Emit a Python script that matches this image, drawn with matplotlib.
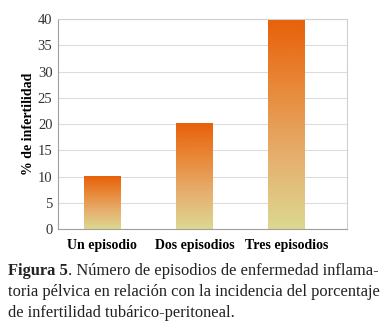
import matplotlib
matplotlib.use("Agg")
import matplotlib.pyplot as plt
import numpy as np
from matplotlib.colors import LinearSegmentedColormap

categories = ["Un episodio", "Dos episodios", "Tres episodios"]
values = [10, 20, 40]
yticks = [0, 5, 10, 15, 20, 25, 30, 35, 40]
ylabel = "% de infertilidad"
caption_bold = "Figura 5"
caption_line1 = ". Número de episodios de enfermedad inflama-"
caption_line2 = "toria pélvica en relación con la incidencia del porcentaje"
caption_line3 = "de infertilidad tubárico-peritoneal."

serif = ["Liberation Serif", "DejaVu Serif"]

fig = plt.figure(figsize=(3.84, 3.36), dpi=100)
ax = fig.add_axes([0.151, 0.318, 0.753, 0.625])

cmap = LinearSegmentedColormap.from_list(
    "og", ["#dcd890", "#e6b070", "#e88a3a", "#e8600a"])
grad = np.linspace(0, 1, 256).reshape(-1, 1)
x = np.arange(len(categories))
w = 0.40
for xi, v in zip(x, values):
    ax.imshow(grad, extent=[xi - w / 2, xi + w / 2, 0, v], origin="lower",
              cmap=cmap, aspect="auto", zorder=2, interpolation="bilinear")

ax.set_xlim(-0.48, 2.655)
ax.set_ylim(0, 40)
ax.set_yticks(yticks)
ax.set_yticklabels([str(t) for t in yticks], family=serif, fontsize=10.5,
                   color="#333333")
ax.set_xticks(x)
ax.set_xticklabels(categories, family=serif, fontsize=10, fontweight="bold")
ax.tick_params(axis="both", length=0, pad=4)
ax.tick_params(axis="x", pad=7)
ax.yaxis.grid(True, color="#dcdcdc", linewidth=0.8, zorder=0)
ax.set_axisbelow(True)
for s in ["top", "right"]:
    ax.spines[s].set_color("#d0d0d0")
    ax.spines[s].set_linewidth(0.8)
for s in ["left", "bottom"]:
    ax.spines[s].set_color("#a0a0a0")
    ax.spines[s].set_linewidth(0.8)
ax.set_ylabel(ylabel, family=serif, fontsize=10, fontweight="bold", labelpad=2)

fs = 11.85
t1 = fig.text(0.02, 1 - 271 / 336, caption_bold, family=serif, fontsize=fs,
              fontweight="bold", va="center", color="#222222")
fig.canvas.draw()
bb = t1.get_window_extent()
xr = bb.x1 / fig.bbox.width
fig.text(xr, 1 - 271 / 336, caption_line1, family=serif, fontsize=fs,
         va="center", color="#222222")
fig.text(0.02, 1 - 292 / 336, caption_line2, family=serif, fontsize=fs,
         va="center", color="#222222")
fig.text(0.02, 1 - 313 / 336, caption_line3, family=serif, fontsize=fs,
         va="center", color="#222222")

fig.savefig("out.png", dpi=100)
